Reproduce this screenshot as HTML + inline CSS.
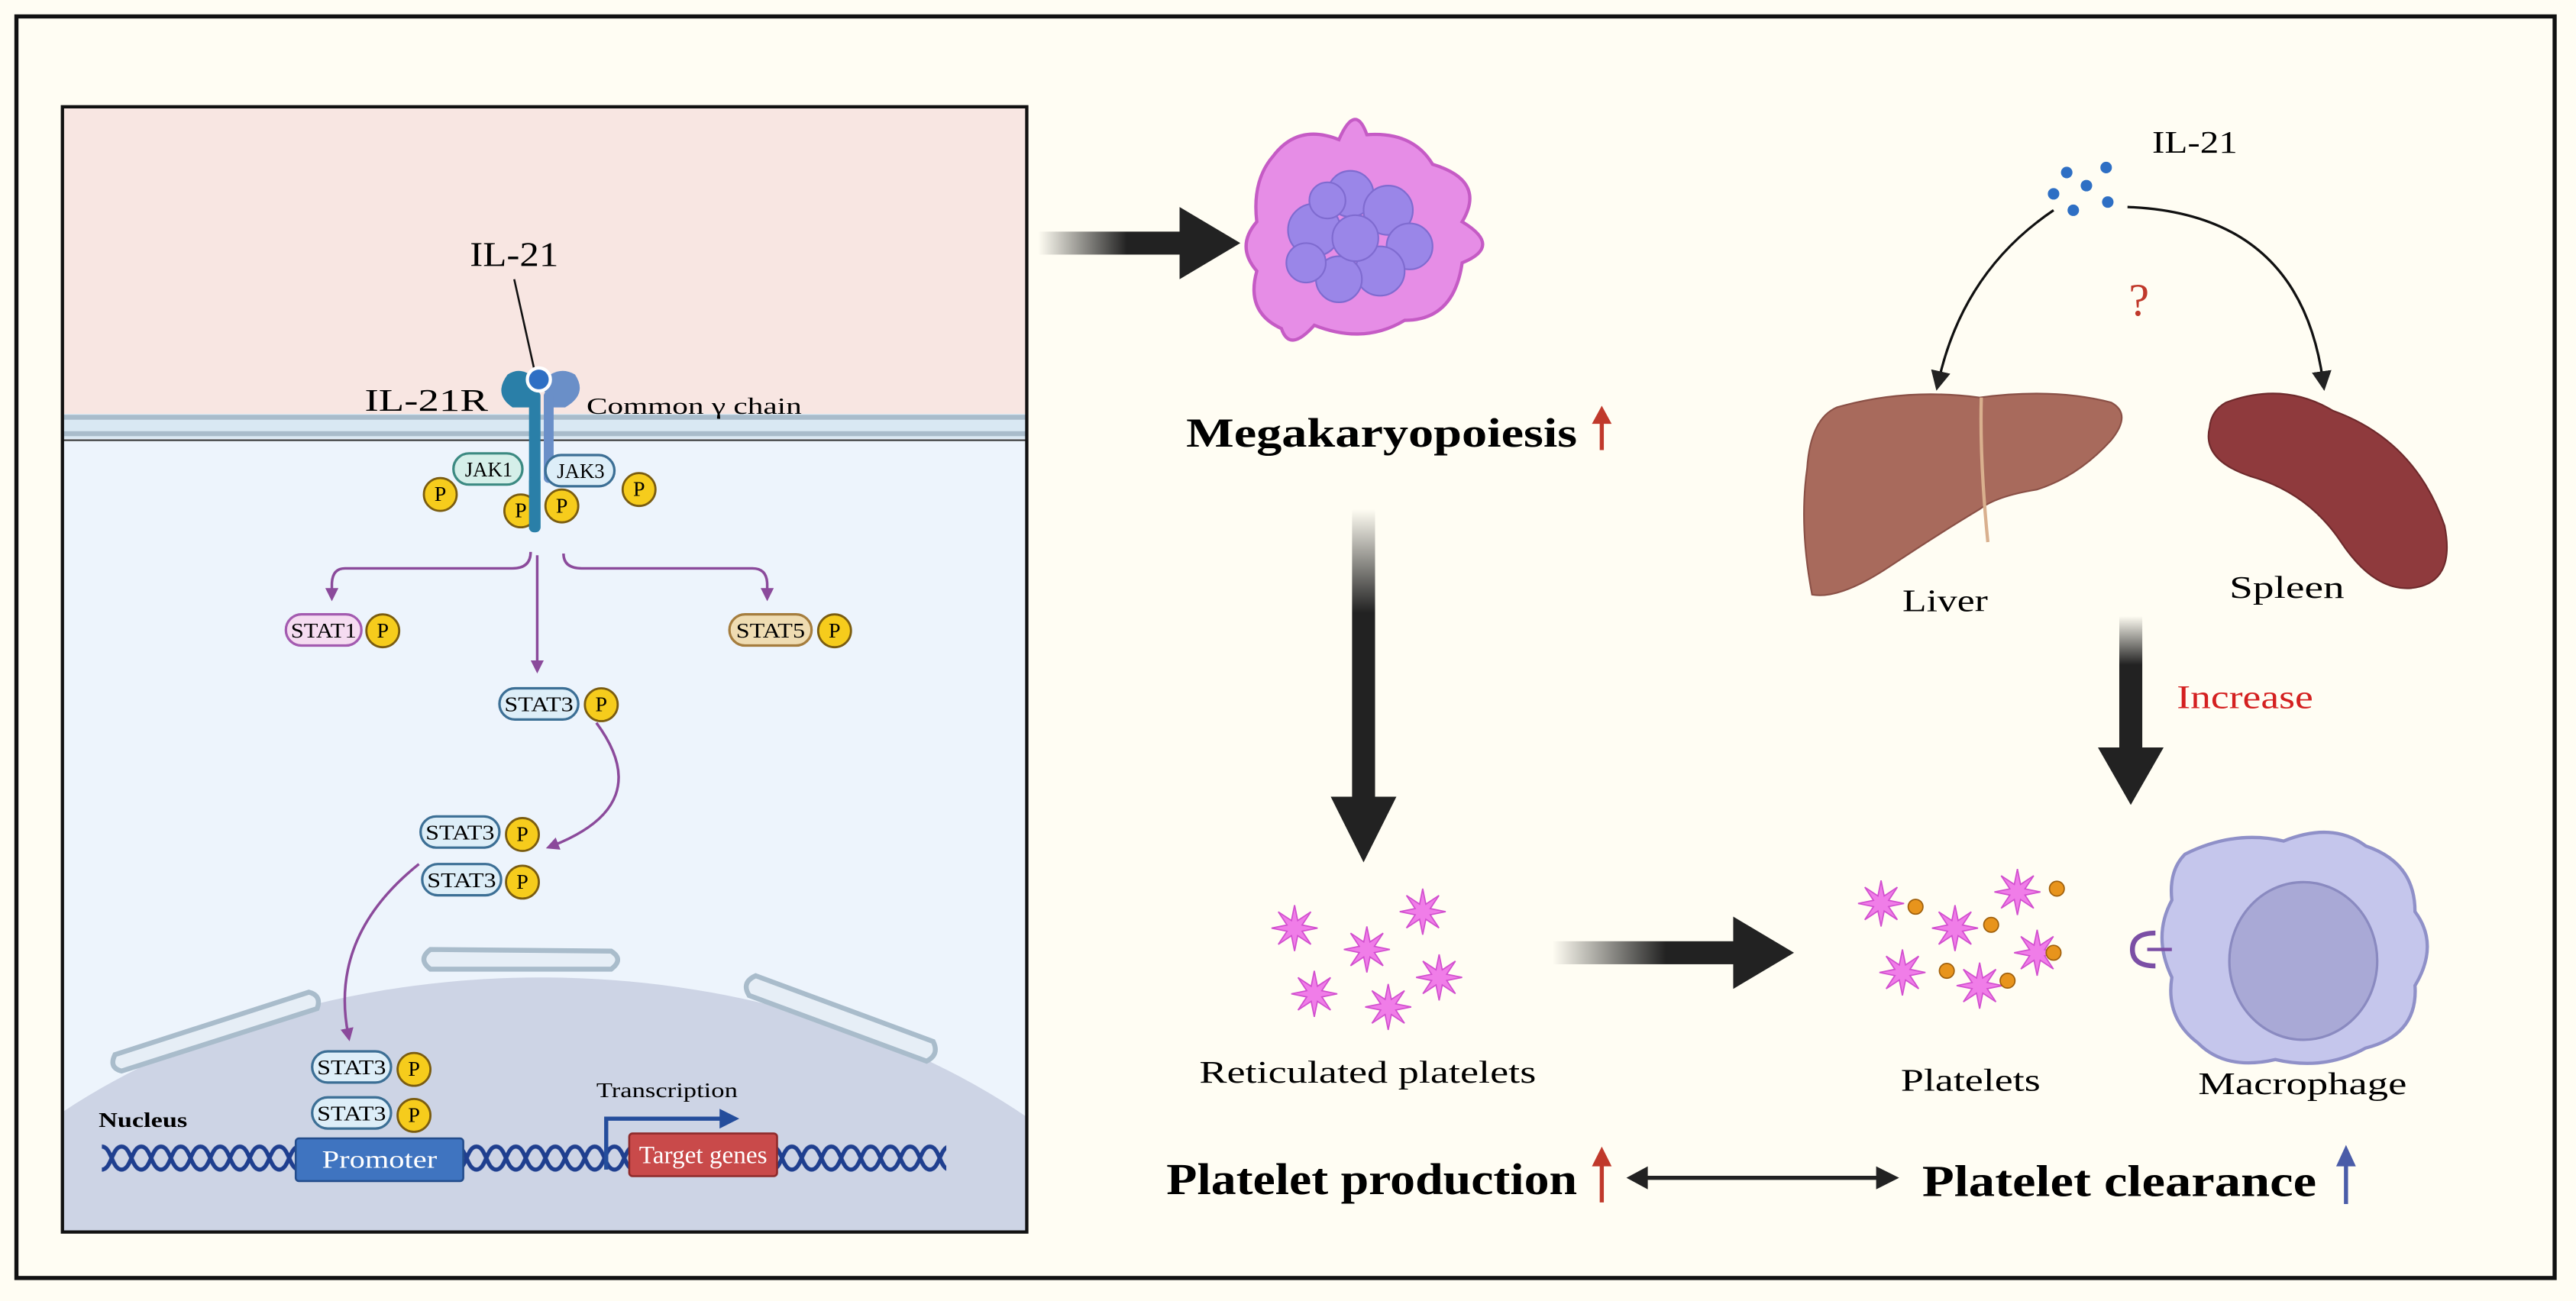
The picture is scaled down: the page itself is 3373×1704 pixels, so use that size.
<!DOCTYPE html>
<html><head><meta charset="utf-8"><style>
html,body{margin:0;padding:0;background:#fffdf3;width:3373px;height:1704px;overflow:hidden;}
svg{display:block;}
text{font-family:"Liberation Serif",serif;}
</style></head><body>
<svg width="3373" height="1704" viewBox="0 0 1568 792" preserveAspectRatio="none" xmlns="http://www.w3.org/2000/svg">
<defs>
<linearGradient id="gh" x1="0" x2="1" y1="0" y2="0"><stop offset="0" stop-color="#222" stop-opacity="0"/><stop offset="0.6" stop-color="#222"/></linearGradient>
<linearGradient id="gv" x1="0" x2="0" y1="0" y2="1"><stop offset="0" stop-color="#222" stop-opacity="0"/><stop offset="0.35" stop-color="#222"/></linearGradient>
<pattern id="dna" x="62" y="695" width="24" height="20" patternUnits="userSpaceOnUse">
<path d="M0,3 C6,3 6,17 12,17 C18,17 18,3 24,3" fill="none" stroke="#1f3f8f" stroke-width="2.5"/>
<path d="M0,17 C6,17 6,3 12,3 C18,3 18,17 24,17" fill="none" stroke="#1f3f8f" stroke-width="2.5"/>
</pattern>
<polygon id="star" points="14,0 4.6,1.9 9.9,9.9 1.9,4.6 0,14 -1.9,4.6 -9.9,9.9 -4.6,1.9 -14,0 -4.6,-1.9 -9.9,-9.9 -1.9,-4.6 0,-14 1.9,-4.6 9.9,-9.9 4.6,-1.9" fill="#f07de8" stroke="#d24fcf" stroke-width="0.8"/>
<marker id="pa" markerWidth="8" markerHeight="8" refX="4" refY="4" orient="auto" markerUnits="userSpaceOnUse"><path d="M0,0 L8,4 L0,8 Z" fill="#8b4a9b"/></marker>
<marker id="ka" markerWidth="12" markerHeight="12" refX="6" refY="6" orient="auto" markerUnits="userSpaceOnUse"><path d="M0,0 L12,6 L0,12 Z" fill="#222"/></marker>
</defs>
<rect x="0" y="0" width="1568" height="792" fill="#fffdf3"/>
<rect x="10" y="10" width="1545" height="768" fill="none" stroke="#111" stroke-width="2.5"/>

<rect x="38" y="65" width="587" height="187" fill="#f8e6e2"/>
<rect x="38" y="252" width="587" height="498" fill="#edf4fc"/>
<rect x="38" y="252" width="587" height="15" fill="#d9e8f3"/>
<line x1="38" y1="254" x2="625" y2="254" stroke="#a9bccb" stroke-width="3"/>
<line x1="38" y1="264" x2="625" y2="264" stroke="#a9bccb" stroke-width="3"/>
<line x1="38" y1="268" x2="625" y2="268" stroke="#333" stroke-width="1"/>
<path d="M38,677 A430,310 0 0 1 625,680 L625,750 L38,750 Z" fill="#cdd4e5"/>
<g fill="#e6eef6" stroke="#a9bccb" stroke-width="3">
<path d="M70,642 L188,604 Q196,606 193,614 L74,652 Q66,650 70,642 Z"/>
<path d="M262,578 L372,579 Q380,584 372,590 L262,590 Q254,584 262,578 Z"/>
<path d="M460,594 L568,634 Q572,642 564,646 L456,606 Q451,598 460,594 Z"/>
</g>
<rect x="38" y="65" width="587" height="685" fill="none" stroke="#111" stroke-width="2"/>

<text x="286" y="162" font-size="21" textLength="54" lengthAdjust="spacingAndGlyphs">IL-21</text>
<line x1="313" y1="170" x2="325" y2="224" stroke="#111" stroke-width="1.2"/>
<path d="M327,232 Q318,222 309,228 Q300,240 312,248 L322,248 Z" fill="#2a7fa8"/>
<path d="M330,232 Q340,222 350,228 Q358,240 344,248 L334,248 Z" fill="#6a8fc8"/>
<rect x="322" y="238" width="7" height="86" rx="3" fill="#2a7fa8"/>
<rect x="331" y="238" width="6" height="56" rx="3" fill="#6a8fc8"/>
<circle cx="328" cy="231" r="7" fill="#2e6fc4" stroke="#fff" stroke-width="2"/>
<text x="222" y="250" font-size="19" textLength="75" lengthAdjust="spacingAndGlyphs">IL-21R</text>
<text x="357" y="252" font-size="14" textLength="131" lengthAdjust="spacingAndGlyphs">Common γ chain</text>

<rect x="276" y="276" width="42" height="19" rx="9.5" fill="#d5efe9" stroke="#3c8a82" stroke-width="1.5"/>
<text x="283" y="290" font-size="13" textLength="29" lengthAdjust="spacingAndGlyphs">JAK1</text>
<rect x="332" y="277" width="42" height="19" rx="9.5" fill="#ddeef8" stroke="#3c6f95" stroke-width="1.5"/>
<text x="339" y="291" font-size="13" textLength="29" lengthAdjust="spacingAndGlyphs">JAK3</text>
<g fill="#f6cc1c" stroke="#7a5c10" stroke-width="1.3">
<circle cx="268" cy="301" r="10"/><circle cx="317" cy="311" r="10"/><circle cx="342" cy="308" r="10"/><circle cx="389" cy="298" r="10"/>
</g>
<g font-size="13" text-anchor="middle"><text x="268" y="305">P</text><text x="317" y="315">P</text><text x="342" y="312">P</text><text x="389" y="302">P</text></g>
<rect x="322" y="290" width="7" height="34" rx="3" fill="#2a7fa8"/>

<g fill="none" stroke="#8b4a9b" stroke-width="1.6">
<path d="M323,336 Q323,346 312,346 L210,346 Q202,346 202,356 L202,362" marker-end="url(#pa)"/>
<path d="M327,338 L327,406" marker-end="url(#pa)"/>
<path d="M343,337 Q343,346 354,346 L458,346 Q467,346 467,356 L467,362" marker-end="url(#pa)"/>
<path d="M363,440 Q400,490 336,515" marker-end="url(#pa)"/>
<path d="M255,526 Q200,570 212,630" marker-end="url(#pa)"/>
</g>

<g font-size="13">
<rect x="174" y="374" width="46" height="19" rx="9.5" fill="#f5dcf1" stroke="#a35bb0" stroke-width="1.5"/>
<text x="177" y="388" textLength="40" lengthAdjust="spacingAndGlyphs">STAT1</text>
<rect x="444" y="374" width="50" height="19" rx="9.5" fill="#efdcb2" stroke="#a57d3e" stroke-width="1.5"/>
<text x="448" y="388" textLength="42" lengthAdjust="spacingAndGlyphs">STAT5</text>
<rect x="304" y="419" width="48" height="19" rx="9.5" fill="#ddeef8" stroke="#3c6f95" stroke-width="1.5"/>
<text x="307" y="433" textLength="42" lengthAdjust="spacingAndGlyphs">STAT3</text>
<rect x="256" y="497" width="48" height="19" rx="9.5" fill="#ddeef8" stroke="#3c6f95" stroke-width="1.5"/>
<text x="259" y="511" textLength="42" lengthAdjust="spacingAndGlyphs">STAT3</text>
<rect x="257" y="526" width="48" height="19" rx="9.5" fill="#ddeef8" stroke="#3c6f95" stroke-width="1.5"/>
<text x="260" y="540" textLength="42" lengthAdjust="spacingAndGlyphs">STAT3</text>
<rect x="190" y="640" width="48" height="19" rx="9.5" fill="#ddeef8" stroke="#3c6f95" stroke-width="1.5"/>
<text x="193" y="654" textLength="42" lengthAdjust="spacingAndGlyphs">STAT3</text>
<rect x="190" y="668" width="48" height="19" rx="9.5" fill="#ddeef8" stroke="#3c6f95" stroke-width="1.5"/>
<text x="193" y="682" textLength="42" lengthAdjust="spacingAndGlyphs">STAT3</text>
</g>
<g fill="#f6cc1c" stroke="#7a5c10" stroke-width="1.3">
<circle cx="233" cy="384" r="10"/><circle cx="508" cy="384" r="10"/><circle cx="366" cy="429" r="10"/>
<circle cx="318" cy="508" r="10"/><circle cx="318" cy="537" r="10"/>
<circle cx="252" cy="651" r="10"/><circle cx="252" cy="679" r="10"/>
</g>
<g font-size="13" text-anchor="middle">
<text x="233" y="388">P</text><text x="508" y="388">P</text><text x="366" y="433">P</text>
<text x="318" y="512">P</text><text x="318" y="541">P</text><text x="252" y="655">P</text><text x="252" y="683">P</text>
</g>

<text x="60" y="686" font-size="13" font-weight="bold" textLength="54" lengthAdjust="spacingAndGlyphs">Nucleus</text>
<rect x="62" y="695" width="514" height="20" fill="url(#dna)"/>
<rect x="180" y="693" width="102" height="26" rx="2" fill="#3f74c0" stroke="#244d8c" stroke-width="1.2"/>
<text x="196" y="711" font-size="15" fill="#fff" textLength="70" lengthAdjust="spacingAndGlyphs">Promoter</text>
<rect x="383" y="690" width="90" height="26" rx="2" fill="#c94a4a" stroke="#8e2a2a" stroke-width="1.2"/>
<text x="389" y="708" font-size="15" fill="#fff" textLength="78" lengthAdjust="spacingAndGlyphs">Target genes</text>
<path d="M369,712 L369,681 L440,681" fill="none" stroke="#244d9c" stroke-width="2.5"/>
<path d="M438,675 L450,681 L438,687 Z" fill="#244d9c"/>
<text x="363" y="668" font-size="13" textLength="86" lengthAdjust="spacingAndGlyphs">Transcription</text>

<rect x="632" y="141" width="90" height="14" fill="url(#gh)"/>
<path d="M718,126 L755,148 L718,170 Z" fill="#222"/>
<rect x="823" y="310" width="14" height="180" fill="url(#gv)"/>
<path d="M810,485 L830,525 L850,485 Z" fill="#222"/>
<rect x="945" y="573" width="115" height="14" fill="url(#gh)"/>
<path d="M1055,558 L1092,580 L1055,602 Z" fill="#222"/>
<rect x="1290" y="375" width="14" height="85" fill="url(#gv)"/>
<path d="M1277,455 L1297,490 L1317,455 Z" fill="#222"/>

<path d="M775,95 Q790,75 815,85 Q825,62 832,82 Q860,80 872,100 Q905,110 890,135 Q915,150 890,160 Q885,195 855,195 Q830,210 800,198 Q785,215 780,200 Q758,190 765,165 Q752,150 765,135 Q762,110 775,95 Z" fill="#e68de6" stroke="#c55bc5" stroke-width="2"/>
<g fill="#9a86e8" stroke="#7f6bd0" stroke-width="1">
<circle cx="800" cy="140" r="16"/><circle cx="822" cy="118" r="14"/><circle cx="845" cy="128" r="15"/><circle cx="858" cy="150" r="14"/>
<circle cx="840" cy="165" r="15"/><circle cx="815" cy="170" r="14"/><circle cx="795" cy="160" r="12"/><circle cx="825" cy="145" r="14"/><circle cx="808" cy="122" r="11"/>
</g>
<text x="722" y="272" font-size="25" font-weight="bold" textLength="238" lengthAdjust="spacingAndGlyphs">Megakaryopoiesis</text>
<line x1="975" y1="274" x2="975" y2="256" stroke="#c0392b" stroke-width="2.5"/>
<path d="M969,258 L975,247 L981,258 Z" fill="#c0392b"/>

<use href="#star" x="788" y="565"/><use href="#star" x="832" y="578"/><use href="#star" x="866" y="555"/>
<use href="#star" x="876" y="595"/><use href="#star" x="800" y="605"/><use href="#star" x="845" y="613"/>
<text x="730" y="659" font-size="19" textLength="205" lengthAdjust="spacingAndGlyphs">Reticulated platelets</text>

<use href="#star" x="1145" y="550"/><use href="#star" x="1190" y="565"/><use href="#star" x="1228" y="543"/>
<use href="#star" x="1240" y="580"/><use href="#star" x="1158" y="592"/><use href="#star" x="1205" y="600"/>
<g fill="#e8941c" stroke="#a0600c" stroke-width="0.8">
<circle cx="1166" cy="552" r="4.5"/><circle cx="1212" cy="563" r="4.5"/><circle cx="1252" cy="541" r="4.5"/>
<circle cx="1250" cy="580" r="4.5"/><circle cx="1185" cy="591" r="4.5"/><circle cx="1222" cy="597" r="4.5"/>
</g>
<text x="1157" y="664" font-size="19" textLength="85" lengthAdjust="spacingAndGlyphs">Platelets</text>

<path d="M1330,520 Q1360,505 1390,512 Q1420,500 1440,515 Q1470,525 1470,555 Q1485,575 1470,600 Q1472,630 1440,638 Q1415,652 1385,645 Q1355,652 1338,635 Q1318,620 1322,595 Q1310,570 1322,548 Q1320,530 1330,520 Z" fill="#c5c6ec" stroke="#8f90c8" stroke-width="2"/>
<ellipse cx="1402" cy="585" rx="45" ry="48" fill="#a9a9d6" stroke="#8a8ac0" stroke-width="1.5"/>
<path d="M1312,568 Q1298,568 1298,578 Q1298,588 1312,588" fill="none" stroke="#7b4fa5" stroke-width="3"/>
<line x1="1307" y1="578" x2="1322" y2="578" stroke="#7b4fa5" stroke-width="2"/>
<text x="1338" y="666" font-size="19" textLength="127" lengthAdjust="spacingAndGlyphs">Macrophage</text>

<g fill="#2e6fc4"><circle cx="1258" cy="105" r="3.5"/><circle cx="1282" cy="102" r="3.5"/><circle cx="1270" cy="113" r="3.5"/><circle cx="1250" cy="118" r="3.5"/><circle cx="1262" cy="128" r="3.5"/><circle cx="1283" cy="123" r="3.5"/></g>
<text x="1310" y="93" font-size="19" textLength="52" lengthAdjust="spacingAndGlyphs">IL-21</text>
<path d="M1250,128 Q1195,165 1180,232" fill="none" stroke="#111" stroke-width="1.5" marker-end="url(#ka)"/>
<path d="M1295,126 Q1400,130 1414,232" fill="none" stroke="#111" stroke-width="1.5" marker-end="url(#ka)"/>
<text x="1302" y="192" font-size="28" fill="#c0392b" text-anchor="middle">?</text>

<path d="M1118,248 Q1160,236 1205,242 Q1250,236 1285,245 Q1298,252 1285,268 Q1265,290 1240,298 Q1215,302 1205,310 Q1180,325 1150,345 Q1120,365 1103,362 Q1095,320 1100,285 Q1102,255 1118,248 Z" fill="#a86a5c" stroke="#8a5046" stroke-width="1"/>
<path d="M1206,242 Q1205,280 1210,330" fill="none" stroke="#d9b08e" stroke-width="2"/>
<text x="1158" y="372" font-size="19" textLength="52" lengthAdjust="spacingAndGlyphs">Liver</text>
<path d="M1355,245 Q1390,232 1420,250 Q1470,268 1488,320 Q1495,355 1468,358 Q1445,360 1425,330 Q1405,300 1370,290 Q1340,280 1345,260 Q1346,250 1355,245 Z" fill="#8f3a3d" stroke="#6e2a2c" stroke-width="1"/>
<text x="1357" y="364" font-size="19" textLength="70" lengthAdjust="spacingAndGlyphs">Spleen</text>
<text x="1325" y="431" font-size="20" fill="#d42020" textLength="83" lengthAdjust="spacingAndGlyphs">Increase</text>

<text x="710" y="727" font-size="27" font-weight="bold" textLength="250" lengthAdjust="spacingAndGlyphs">Platelet production</text>
<line x1="975" y1="732" x2="975" y2="708" stroke="#c0392b" stroke-width="2.5"/>
<path d="M969,710 L975,698 L981,710 Z" fill="#c0392b"/>
<line x1="1000" y1="717" x2="1145" y2="717" stroke="#222" stroke-width="2.5"/>
<path d="M1003,710 L990,717 L1003,724 Z" fill="#222"/>
<path d="M1142,710 L1156,717 L1142,724 Z" fill="#222"/>
<text x="1170" y="728" font-size="27" font-weight="bold" textLength="240" lengthAdjust="spacingAndGlyphs">Platelet clearance</text>
<line x1="1428" y1="733" x2="1428" y2="708" stroke="#4a5ca8" stroke-width="2.5"/>
<path d="M1422,710 L1428,697 L1434,710 Z" fill="#4a5ca8"/>
</svg>
</body></html>
